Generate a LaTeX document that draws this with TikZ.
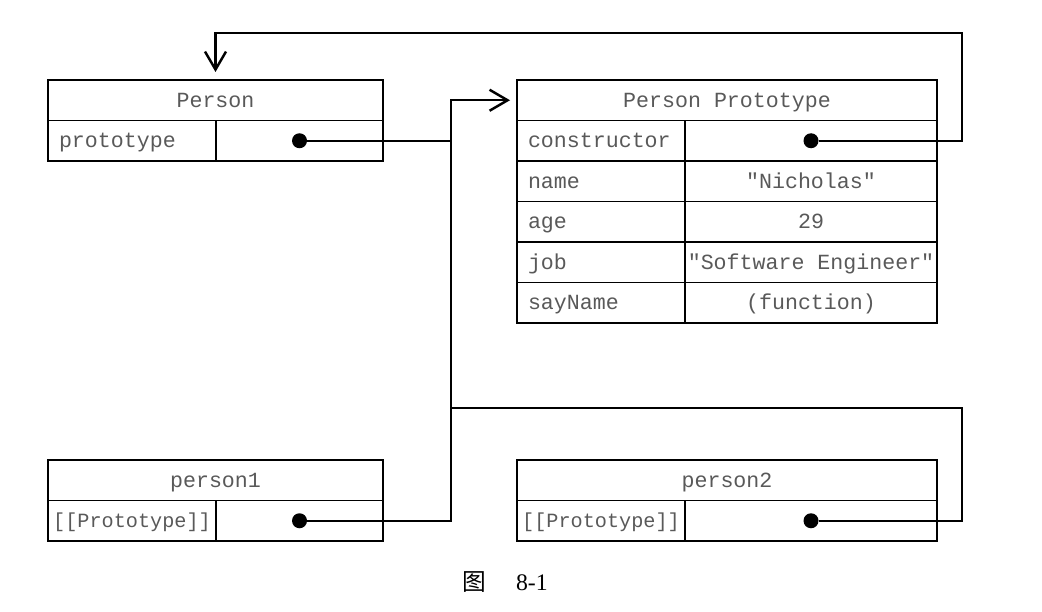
\documentclass[tikz,border=0pt]{standalone}
\usepackage{fontspec}
\setmainfont{Liberation Serif}
\newfontfamily\cjkfont{Noto Sans CJK SC}
\newfontfamily\cellfont{Liberation Mono}
\usetikzlibrary{arrows.meta}

\tikzset{
    cell/.style={
        draw,
        line width=1.1pt,
        anchor=north west,
        inner sep=0pt,
        outer sep=0pt,
        minimum height=0.81cm,
        text height=2ex,
        text depth=0.25ex,
        text=black!65,
        font=\cellfont\fontsize{12.3}{14}\selectfont
        },
    keycell/.style={cell, inner xsep=0.22cm, text width=2.92cm, align=left},
    slotcell/.style={cell, minimum width=3.36cm, font=\cellfont\fontsize{11.5}{13}\selectfont},
    valcell/.style={cell, minimum width=#1},
    link/.style={line width=1.4pt, line join=miter},
    tip/.style={-{Straight Barb[length=0.36cm, width=0.42cm]}},
    dot/.style={fill, circle, minimum size=0.3cm, inner sep=0pt}
}

\begin{document}
\begin{tikzpicture}
    \useasboundingbox (0,0) rectangle (20.84,-12.24);

    % Person:
    \node[cell, minimum width=6.7cm] (person) at (0.96,-1.6) {Person};
    \node[keycell] (pkey) at (person.south west) {prototype};
    \node[valcell=3.34cm] (pval) at (pkey.north east) {};

    % Person Prototype:
    \node[cell, minimum width=8.4cm, alias=key0] (proto) at (10.34,-1.6) {Person Prototype};
    \foreach \k/\v [count=\i, remember=\i as \j (initially 0)] in
        {constructor/{}, name/{"Nicholas"}, age/29, job/{"Software Engineer"}, sayName/{(function)}}
    {
        \node[keycell] (key\i) at (key\j.south west) {\k};
        \node[valcell=5.04cm] (val\i) at (key\i.north east) {\v};
    }

    % instances:
    \node[cell, minimum width=6.7cm] (obj1) at (0.96,-9.2) {person1};
    \node[slotcell] (obj1key) at (obj1.south west) {[[Prototype]]};
    \node[valcell=3.34cm] (obj1val) at (obj1key.north east) {};

    \node[cell, minimum width=8.4cm] (obj2) at (10.34,-9.2) {person2};
    \node[slotcell] (obj2key) at (obj2.south west) {[[Prototype]]};
    \node[valcell=5.04cm] (obj2val) at (obj2key.north east) {};

    % pointers:
    \node[dot] (pdot) at (pval.center) {};
    \node[dot] (cdot) at (val1.center) {};
    \node[dot] (dot1) at (obj1val.center) {};
    \node[dot] (dot2) at (obj2val.center) {};

    \coordinate (trunk) at (9.02,0);
    \coordinate (loop2) at (19.24,-8.16);
    \coordinate (loopc) at (19.24,-0.66);

    \draw[link, tip, shorten >=0.14cm] (dot1) -| (trunk |- proto.west) -- (proto.west);
    \draw[link] (pdot) -- (pdot -| trunk);
    \draw[link] (dot2) -| (loop2) -- (loop2 -| trunk);
    \draw[link, tip, shorten >=0.16cm] (cdot) -| (loopc) -| (person.north);

    % caption
    \node[font=\fontsize{13.5}{15}\selectfont] (caption) at (10.1,-11.64)
        {{\cjkfont 图}\hspace{0.6cm}8-1};
\end{tikzpicture}
\end{document}
